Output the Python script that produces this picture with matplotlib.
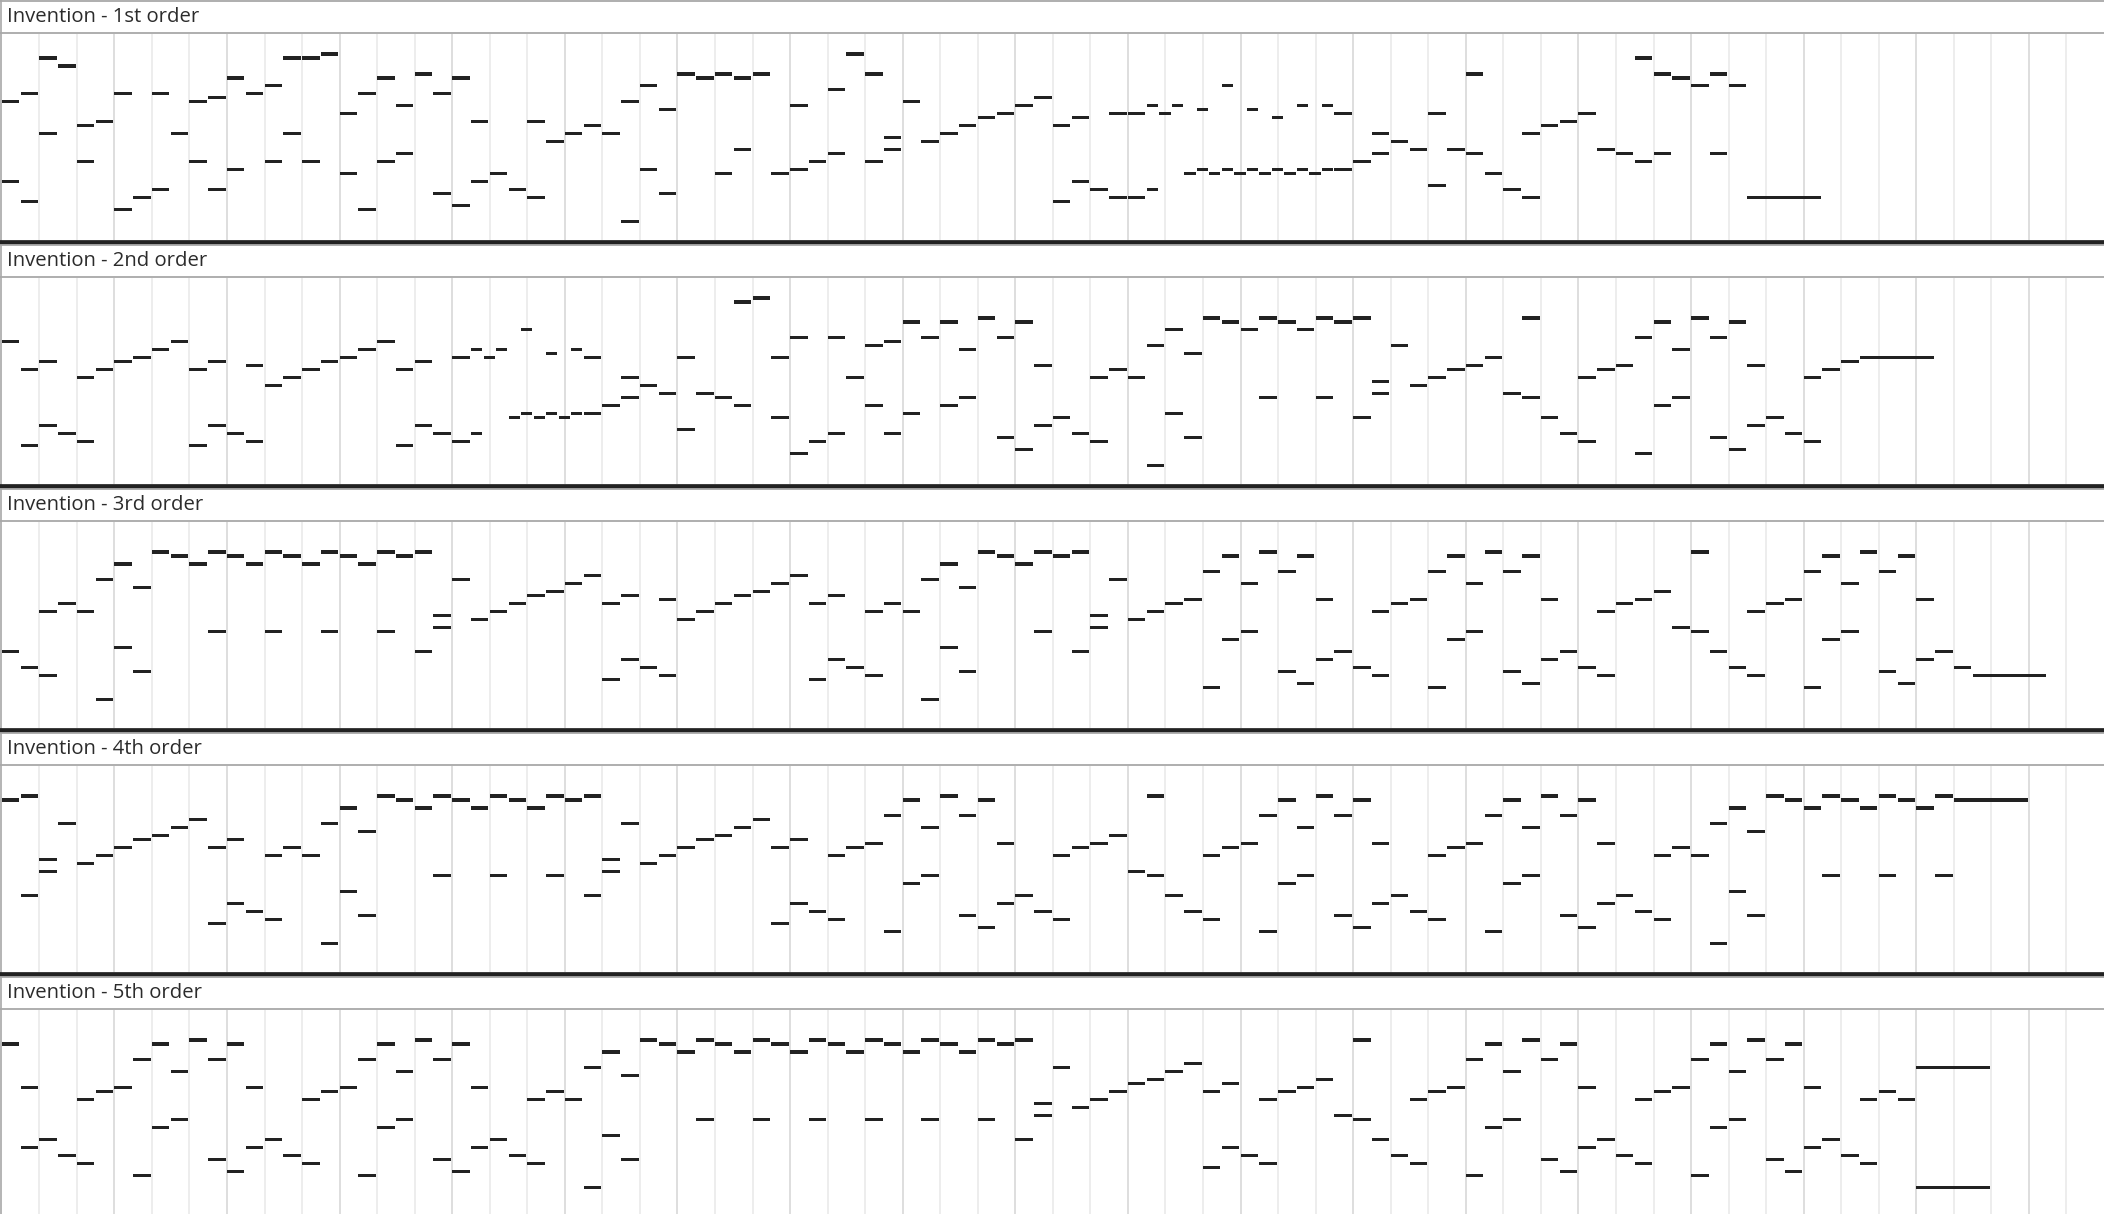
import matplotlib.pyplot as plt

# piano roll of generated inventions
# each note: (start in eighths, pitch row) or (start, pitch row, length in eighths)

titles = ['Invention - 1st order', 'Invention - 2nd order', 'Invention - 3rd order',
          'Invention - 4th order', 'Invention - 5th order']

order1 = [
    (0, 34), (0, 14), (1, 36), (1, 9), (2, 45), (2, 26), (3, 43), (4, 28), (4, 19), (5, 29),
    (6, 36), (6, 7), (7, 10), (8, 36), (8, 12), (9, 26), (10, 34), (10, 19), (11, 35), (11, 12),
    (12, 40), (12, 17), (13, 36), (14, 38), (14, 19), (15, 45), (15, 26), (16, 45), (16, 19), (17, 46),
    (18, 31), (18, 16), (19, 36), (19, 7), (20, 40), (20, 19), (21, 33), (21, 21), (22, 41), (23, 36),
    (23, 11), (24, 40), (24, 8), (25, 29), (25, 14), (26, 16), (27, 12), (28, 29), (28, 10), (29, 24),
    (30, 26), (31, 28), (32, 26), (33, 34), (33, 4), (34, 38), (34, 17), (35, 32), (35, 11), (36, 41),
    (37, 40), (38, 41), (38, 16), (39, 40), (39, 22), (40, 41), (41, 16), (42, 33), (42, 17), (43, 19),
    (44, 37), (44, 21), (45, 46), (46, 41), (46, 19), (47, 25), (47, 22), (48, 34), (49, 24), (50, 26),
    (51, 28), (52, 30), (53, 31), (54, 33), (55, 35), (56, 28), (56, 9), (57, 30), (57, 14), (58, 12),
    (59, 31), (59, 10), (60, 31), (60, 10),
    (61, 33, 0.67), (61, 12, 0.67), (61.67, 31, 0.67), (62.33, 33, 0.67), (63, 16, 0.67),
    (63.67, 32, 0.67), (63.67, 17, 0.67), (64.33, 16, 0.67), (65, 38, 0.67), (65, 17, 0.67),
    (65.67, 16, 0.67), (66.33, 32, 0.67), (66.33, 17, 0.67), (67, 16, 0.67), (67.67, 30, 0.67),
    (67.67, 17, 0.67), (68.33, 16, 0.67), (69, 33, 0.67), (69, 17, 0.67), (69.67, 16, 0.67),
    (70.33, 33, 0.67), (70.33, 17, 0.67),
    (71, 31), (71, 17), (72, 19), (73, 26), (73, 21), (74, 24), (75, 22), (76, 31), (76, 13), (77, 22),
    (78, 41), (78, 21), (79, 16), (80, 12), (81, 26), (81, 10), (82, 28), (83, 29), (84, 31), (85, 22),
    (86, 21), (87, 45), (87, 19), (88, 41), (88, 21), (89, 40), (90, 38), (91, 41), (91, 21), (92, 38),
    (93, 10, 4),
]

order2 = [
    (0, 35), (1, 28), (1, 9), (2, 30), (2, 14), (3, 12), (4, 26), (4, 10), (5, 28), (6, 30),
    (7, 31), (8, 33), (9, 35), (10, 28), (10, 9), (11, 30), (11, 14), (12, 12), (13, 29), (13, 10),
    (14, 24), (15, 26), (16, 28), (17, 30), (18, 31), (19, 33), (20, 35), (21, 28), (21, 9), (22, 30),
    (22, 14), (23, 12), (24, 31), (24, 10),
    (25, 33, 0.67), (25, 12, 0.67), (25.67, 31, 0.67), (26.33, 33, 0.67), (27, 16, 0.67),
    (27.67, 38, 0.67), (27.67, 17, 0.67), (28.33, 16, 0.67), (29, 32, 0.67), (29, 17, 0.67),
    (29.67, 16, 0.67), (30.33, 33, 0.67), (30.33, 17, 0.67),
    (31, 31), (31, 17), (32, 19), (33, 26), (33, 21), (34, 24), (35, 22), (36, 31), (36, 13), (37, 22),
    (38, 21), (39, 45), (39, 19), (40, 46), (41, 31), (41, 16), (42, 36), (42, 7), (43, 10), (44, 36),
    (44, 12), (45, 26), (46, 34), (46, 19), (47, 35), (47, 12), (48, 40), (48, 17), (49, 36), (50, 40),
    (50, 19), (51, 33), (51, 21), (52, 41), (53, 36), (53, 11), (54, 40), (54, 8), (55, 29), (55, 14),
    (56, 16), (57, 12), (58, 26), (58, 10), (59, 28), (60, 26), (61, 34), (61, 4), (62, 38), (62, 17),
    (63, 32), (63, 11), (64, 41), (65, 40), (66, 38), (67, 41), (67, 21), (68, 40), (69, 38), (70, 41),
    (70, 21), (71, 40), (72, 41), (72, 16), (73, 25), (73, 22), (74, 34), (75, 24), (76, 26), (77, 28),
    (78, 29), (79, 31), (80, 22), (81, 41), (81, 21), (82, 16), (83, 12), (84, 26), (84, 10), (85, 28),
    (86, 29), (87, 36), (87, 7), (88, 40), (88, 19), (89, 33), (89, 21), (90, 41), (91, 36), (91, 11),
    (92, 40), (92, 8), (93, 29), (93, 14), (94, 16), (95, 12), (96, 26), (96, 10), (97, 28), (98, 30),
    (99, 31, 4),
]

order3 = [
    (0, 18), (1, 14), (2, 28), (2, 12), (3, 30), (4, 28), (5, 36), (5, 6), (6, 40), (6, 19),
    (7, 34), (7, 13), (8, 43), (9, 42), (10, 40), (11, 43), (11, 23), (12, 42), (13, 40), (14, 43),
    (14, 23), (15, 42), (16, 40), (17, 43), (17, 23), (18, 42), (19, 40), (20, 43), (20, 23), (21, 42),
    (22, 43), (22, 18), (23, 27), (23, 24), (24, 36), (25, 26), (26, 28), (27, 30), (28, 32), (29, 33),
    (30, 35), (31, 37), (32, 30), (32, 11), (33, 32), (33, 16), (34, 14), (35, 31), (35, 12), (36, 26),
    (37, 28), (38, 30), (39, 32), (40, 33), (41, 35), (42, 37), (43, 30), (43, 11), (44, 32), (44, 16),
    (45, 14), (46, 28), (46, 12), (47, 30), (48, 28), (49, 36), (49, 6), (50, 40), (50, 19), (51, 34),
    (51, 13), (52, 43), (53, 42), (54, 40), (55, 43), (55, 23), (56, 42), (57, 43), (57, 18), (58, 27),
    (58, 24), (59, 36), (60, 26), (61, 28), (62, 30), (63, 31), (64, 38), (64, 9), (65, 42), (65, 21),
    (66, 35), (66, 23), (67, 43), (68, 38), (68, 13), (69, 42), (69, 10), (70, 31), (70, 16), (71, 18),
    (72, 14), (73, 28), (73, 12), (74, 30), (75, 31), (76, 38), (76, 9), (77, 42), (77, 21), (78, 35),
    (78, 23), (79, 43), (80, 38), (80, 13), (81, 42), (81, 10), (82, 31), (82, 16), (83, 18), (84, 14),
    (85, 28), (85, 12), (86, 30), (87, 31), (88, 33), (89, 24), (90, 43), (90, 23), (91, 18), (92, 14),
    (93, 28), (93, 12), (94, 30), (95, 31), (96, 38), (96, 9), (97, 42), (97, 21), (98, 35), (98, 23),
    (99, 43), (100, 38), (100, 13), (101, 42), (101, 10), (102, 31), (102, 16), (103, 18), (104, 14),
    (105, 12, 4),
]

order4 = [
    (0, 42), (1, 43), (1, 18), (2, 27), (2, 24), (3, 36), (4, 26), (5, 28), (6, 30), (7, 32),
    (8, 33), (9, 35), (10, 37), (11, 30), (11, 11), (12, 32), (12, 16), (13, 14), (14, 28), (14, 12),
    (15, 30), (16, 28), (17, 36), (17, 6), (18, 40), (18, 19), (19, 34), (19, 13), (20, 43), (21, 42),
    (22, 40), (23, 43), (23, 23), (24, 42), (25, 40), (26, 43), (26, 23), (27, 42), (28, 40), (29, 43),
    (29, 23), (30, 42), (31, 43), (31, 18), (32, 27), (32, 24), (33, 36), (34, 26), (35, 28), (36, 30),
    (37, 32), (38, 33), (39, 35), (40, 37), (41, 30), (41, 11), (42, 32), (42, 16), (43, 14), (44, 28),
    (44, 12), (45, 30), (46, 31), (47, 38), (47, 9), (48, 42), (48, 21), (49, 35), (49, 23), (50, 43),
    (51, 38), (51, 13), (52, 42), (52, 10), (53, 31), (53, 16), (54, 18), (55, 14), (56, 28), (56, 12),
    (57, 30), (58, 31), (59, 33), (60, 24), (61, 43), (61, 23), (62, 18), (63, 14), (64, 28), (64, 12),
    (65, 30), (66, 31), (67, 38), (67, 9), (68, 42), (68, 21), (69, 35), (69, 23), (70, 43), (71, 38),
    (71, 13), (72, 42), (72, 10), (73, 31), (73, 16), (74, 18), (75, 14), (76, 28), (76, 12), (77, 30),
    (78, 31), (79, 38), (79, 9), (80, 42), (80, 21), (81, 35), (81, 23), (82, 43), (83, 38), (83, 13),
    (84, 42), (84, 10), (85, 31), (85, 16), (86, 18), (87, 14), (88, 28), (88, 12), (89, 30), (90, 28),
    (91, 36), (91, 6), (92, 40), (92, 19), (93, 34), (93, 13), (94, 43), (95, 42), (96, 40), (97, 43),
    (97, 23), (98, 42), (99, 40), (100, 43), (100, 23), (101, 42), (102, 40), (103, 43), (103, 23),
    (104, 42, 4),
]

order5 = [
    (0, 42), (1, 31), (1, 16), (2, 18), (3, 14), (4, 28), (4, 12), (5, 30), (6, 31), (7, 38),
    (7, 9), (8, 42), (8, 21), (9, 35), (9, 23), (10, 43), (11, 38), (11, 13), (12, 42), (12, 10),
    (13, 31), (13, 16), (14, 18), (15, 14), (16, 28), (16, 12), (17, 30), (18, 31), (19, 38), (19, 9),
    (20, 42), (20, 21), (21, 35), (21, 23), (22, 43), (23, 38), (23, 13), (24, 42), (24, 10), (25, 31),
    (25, 16), (26, 18), (27, 14), (28, 28), (28, 12), (29, 30), (30, 28), (31, 36), (31, 6), (32, 40),
    (32, 19), (33, 34), (33, 13), (34, 43), (35, 42), (36, 40), (37, 43), (37, 23), (38, 42), (39, 40),
    (40, 43), (40, 23), (41, 42), (42, 40), (43, 43), (43, 23), (44, 42), (45, 40), (46, 43), (46, 23),
    (47, 42), (48, 40), (49, 43), (49, 23), (50, 42), (51, 40), (52, 43), (52, 23), (53, 42), (54, 43),
    (54, 18), (55, 27), (55, 24), (56, 36), (57, 26), (58, 28), (59, 30), (60, 32), (61, 33), (62, 35),
    (63, 37), (64, 30), (64, 11), (65, 32), (65, 16), (66, 14), (67, 28), (67, 12), (68, 30), (69, 31),
    (70, 33), (71, 24), (72, 43), (72, 23), (73, 18), (74, 14), (75, 28), (75, 12), (76, 30), (77, 31),
    (78, 38), (78, 9), (79, 42), (79, 21), (80, 35), (80, 23), (81, 43), (82, 38), (82, 13), (83, 42),
    (83, 10), (84, 31), (84, 16), (85, 18), (86, 14), (87, 28), (87, 12), (88, 30), (89, 31), (90, 38),
    (90, 9), (91, 42), (91, 21), (92, 35), (92, 23), (93, 43), (94, 38), (94, 13), (95, 42), (95, 10),
    (96, 31), (96, 16), (97, 18), (98, 14), (99, 28), (99, 12), (100, 30), (101, 28),
    (102, 36, 4), (102, 6, 4),
]

panels = [order1, order2, order3, order4, order5]
# pitch range shown in each panel
ylims = [(-0.58, 51.08), (-0.58, 51.08), (-1.08, 50.58), (-1.08, 50.58), (-1.08, 50.58)]
total_eighths = 112

W, H = 2104, 1214
fig = plt.figure(figsize=(W / 100, H / 100), dpi=100)

# frame lines drawn in pixel coords
frame = fig.add_axes([0, 0, 1, 1])
frame.set_xlim(0, W)
frame.set_ylim(H, 0)
frame.axis('off')
frame.axvline(0.8, color='#a8a8a8', lw=1.2)

panel_h = 244
for i, notes in enumerate(panels):
    top = i * panel_h
    y0 = top + 33.7
    y1 = top + 240

    frame.axhline(top + 0.9, color='#a8a8a8', lw=1.3)
    frame.axhline(top + 32.6, color='#a8a8a8', lw=1.3)
    frame.axhline(top + 242.4, color='#222222', lw=3.4)
    fig.text(7 / W, 1 - (top + 17.5) / H, titles[i], fontsize=14.6, family='Open Sans',
             color='#2b2b2b', va='center', ha='left')

    ax = fig.add_axes([1.75 / W, 1 - y1 / H, (W - 1.75) / W, (y1 - y0) / H])
    ax.set_facecolor('none')
    ax.set_xlim(0, total_eighths)
    ax.set_ylim(*ylims[i])
    ax.axis('off')

    for k in range(2, total_eighths, 2):
        c = '#d4d4d4' if k % 6 == 0 else '#e8e8e8'
        ax.axvline(k, color=c, lw=1.1, zorder=1)

    starts = [n[0] for n in notes]
    pitches = [n[1] for n in notes]
    lens = [n[2] if len(n) > 2 else 1 for n in notes]
    ax.barh(pitches, [d - 0.07 for d in lens], left=starts, height=0.78,
            color='#222222', zorder=3)

fig.savefig('out.png', dpi=100, facecolor='white')
